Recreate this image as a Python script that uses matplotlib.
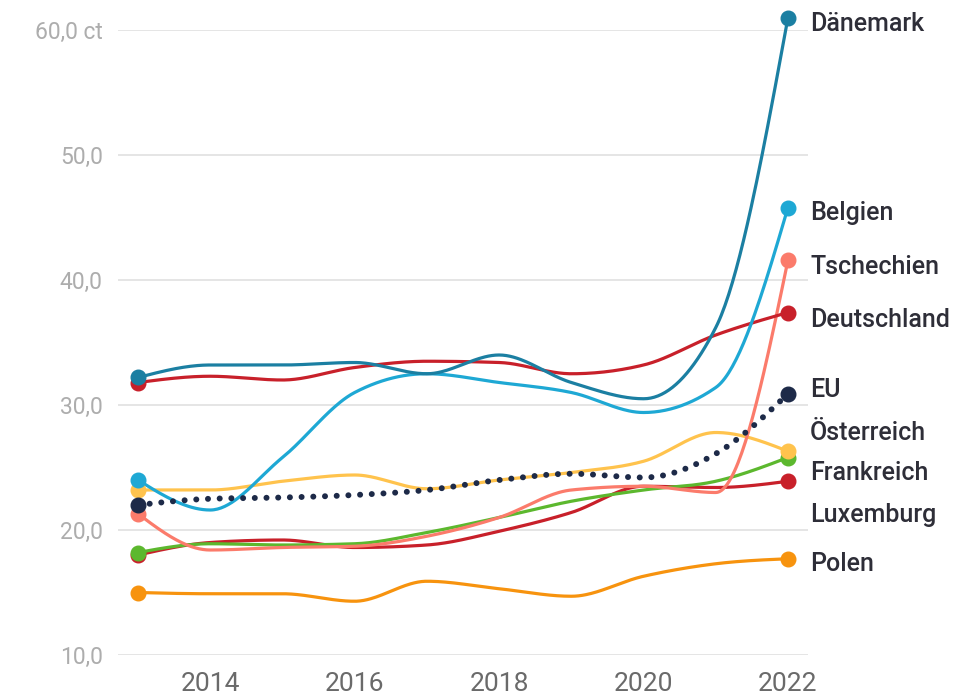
import numpy as np
import matplotlib
matplotlib.use("Agg")
import matplotlib.pyplot as plt

plt.rcParams['font.family'] = ['Roboto', 'DejaVu Sans']

years = [2013, 2014, 2015, 2016, 2017, 2018, 2019, 2020, 2021, 2022]

daenemark   = [32.2, 33.2, 33.2, 33.4, 32.5, 34.0, 31.8, 30.5, 36.2, 61.0]
belgien     = [24.0, 21.6, 25.8, 31.0, 32.5, 31.8, 31.0, 29.4, 31.4, 45.8]
tschechien  = [21.3, 18.4, 18.6, 18.7, 19.5, 21.0, 23.2, 23.5, 23.0, 41.6]
deutschland = [31.8, 32.3, 32.0, 33.0, 33.5, 33.4, 32.5, 33.2, 35.6, 37.4]
eu          = [22.0, 22.5, 22.6, 22.8, 23.2, 24.0, 24.5, 24.2, 26.1, 30.9]
oesterreich = [23.2, 23.2, 23.9, 24.4, 23.3, 24.0, 24.6, 25.5, 27.8, 26.3]
frankreich  = [18.2, 18.9, 18.8, 18.9, 19.8, 21.0, 22.3, 23.2, 23.9, 25.8]
luxemburg   = [18.0, 19.0, 19.2, 18.6, 18.8, 19.9, 21.4, 23.5, 23.4, 23.9]
polen       = [15.0, 14.9, 14.9, 14.3, 15.9, 15.3, 14.7, 16.3, 17.3, 17.7]

names = ["Dänemark", "Belgien", "Tschechien", "Deutschland", "EU",
         "Österreich", "Frankreich", "Luxemburg", "Polen"]

yticks = [10, 20, 30, 40, 50, 60]
ytick_labels = ["10,0", "20,0", "30,0", "40,0", "50,0", "60,0 ct"]
xticks = [2014, 2016, 2018, 2020, 2022]

# style / layout (not data)
colors = {"Dänemark": "#1b7fa2", "Belgien": "#1ea8d4", "Tschechien": "#fb7b6b",
          "Deutschland": "#c8202a", "EU": "#1d2a48", "Österreich": "#ffc34d",
          "Frankreich": "#5cb82e", "Luxemburg": "#c8202a", "Polen": "#f7930e"}
label_pos = {"Dänemark": 60.5, "Belgien": 45.35, "Tschechien": 41.05,
             "Deutschland": 36.8, "EU": 31.2, "Österreich": 27.75,
             "Frankreich": 24.55, "Luxemburg": 21.2, "Polen": 17.3}
draw_order = ["Polen", "Luxemburg", "Frankreich", "Österreich", "Tschechien",
              "Deutschland", "Belgien", "Dänemark", "EU"]

series = dict(zip(names, [daenemark, belgien, tschechien, deutschland, eu,
                          oesterreich, frankreich, luxemburg, polen]))


def monotone(x, y, n=40):
    x = np.asarray(x, float); y = np.asarray(y, float)
    h = np.diff(x); s = np.diff(y) / h
    m = np.zeros_like(y)
    for i in range(1, len(y) - 1):
        p = (s[i-1]*h[i] + s[i]*h[i-1]) / (h[i-1] + h[i])
        m[i] = (np.sign(s[i-1]) + np.sign(s[i])) * min(abs(s[i-1]), abs(s[i]), 0.5*abs(p))
    m[0] = (3*s[0] - m[1]) / 2 if len(y) > 2 else s[0]
    m[-1] = (3*s[-1] - m[-2]) / 2 if len(y) > 2 else s[-1]
    xs, ys = [], []
    for i in range(len(x) - 1):
        t = np.linspace(0, 1, n, endpoint=(i == len(x) - 2))
        h00 = 2*t**3 - 3*t**2 + 1; h10 = t**3 - 2*t**2 + t
        h01 = -2*t**3 + 3*t**2; h11 = t**3 - t**2
        xs.append(x[i] + t*h[i])
        ys.append(h00*y[i] + h10*h[i]*m[i] + h01*y[i+1] + h11*h[i]*m[i+1])
    return np.concatenate(xs), np.concatenate(ys)


fig = plt.figure(figsize=(9.74, 7.0), dpi=100)
ax = fig.add_axes([118/974, 1 - 655/700, 690/974, 625/700])
ax.set_xlim(2013 - 20/72.2, 2022 + 20/72.2)
ax.set_ylim(10, 60)

for v in yticks:
    ax.axhline(v, color="#e3e3e3", lw=1.3, zorder=0)

for nm in draw_order:
    vals = series[nm]
    xs, ys = monotone(years, vals)
    c = colors[nm]
    if nm == "EU":
        ax.plot(xs, ys, color=c, lw=4.3, ls=(0, (0.01, 1.95)), dash_capstyle="round",
                solid_capstyle="round", zorder=5, clip_on=False)
    else:
        ax.plot(xs, ys, color=c, lw=2.3, zorder=3, clip_on=False,
                solid_capstyle="round")
    ax.plot([years[0], years[-1]], [vals[0], vals[-1]], "o", color=c, ms=10.5,
            zorder=6, clip_on=False)
    ax.text(years[-1] + 22/72.2, label_pos[nm], nm, fontsize=18, fontweight=500,
            color="#2e2e38", va="center", ha="left", clip_on=False)

for sp in ax.spines.values():
    sp.set_visible(False)
ax.set_yticks(yticks)
ax.set_yticklabels(ytick_labels)
ax.set_xticks(xticks)
ax.set_xticklabels([str(x) for x in xticks])
ax.tick_params(axis="y", length=0, pad=11, labelsize=16.5, labelcolor="#adadad")
ax.tick_params(axis="x", length=0, pad=12, labelsize=19, labelcolor="#6a6a6a")

fig.savefig("out.png", dpi=100)
